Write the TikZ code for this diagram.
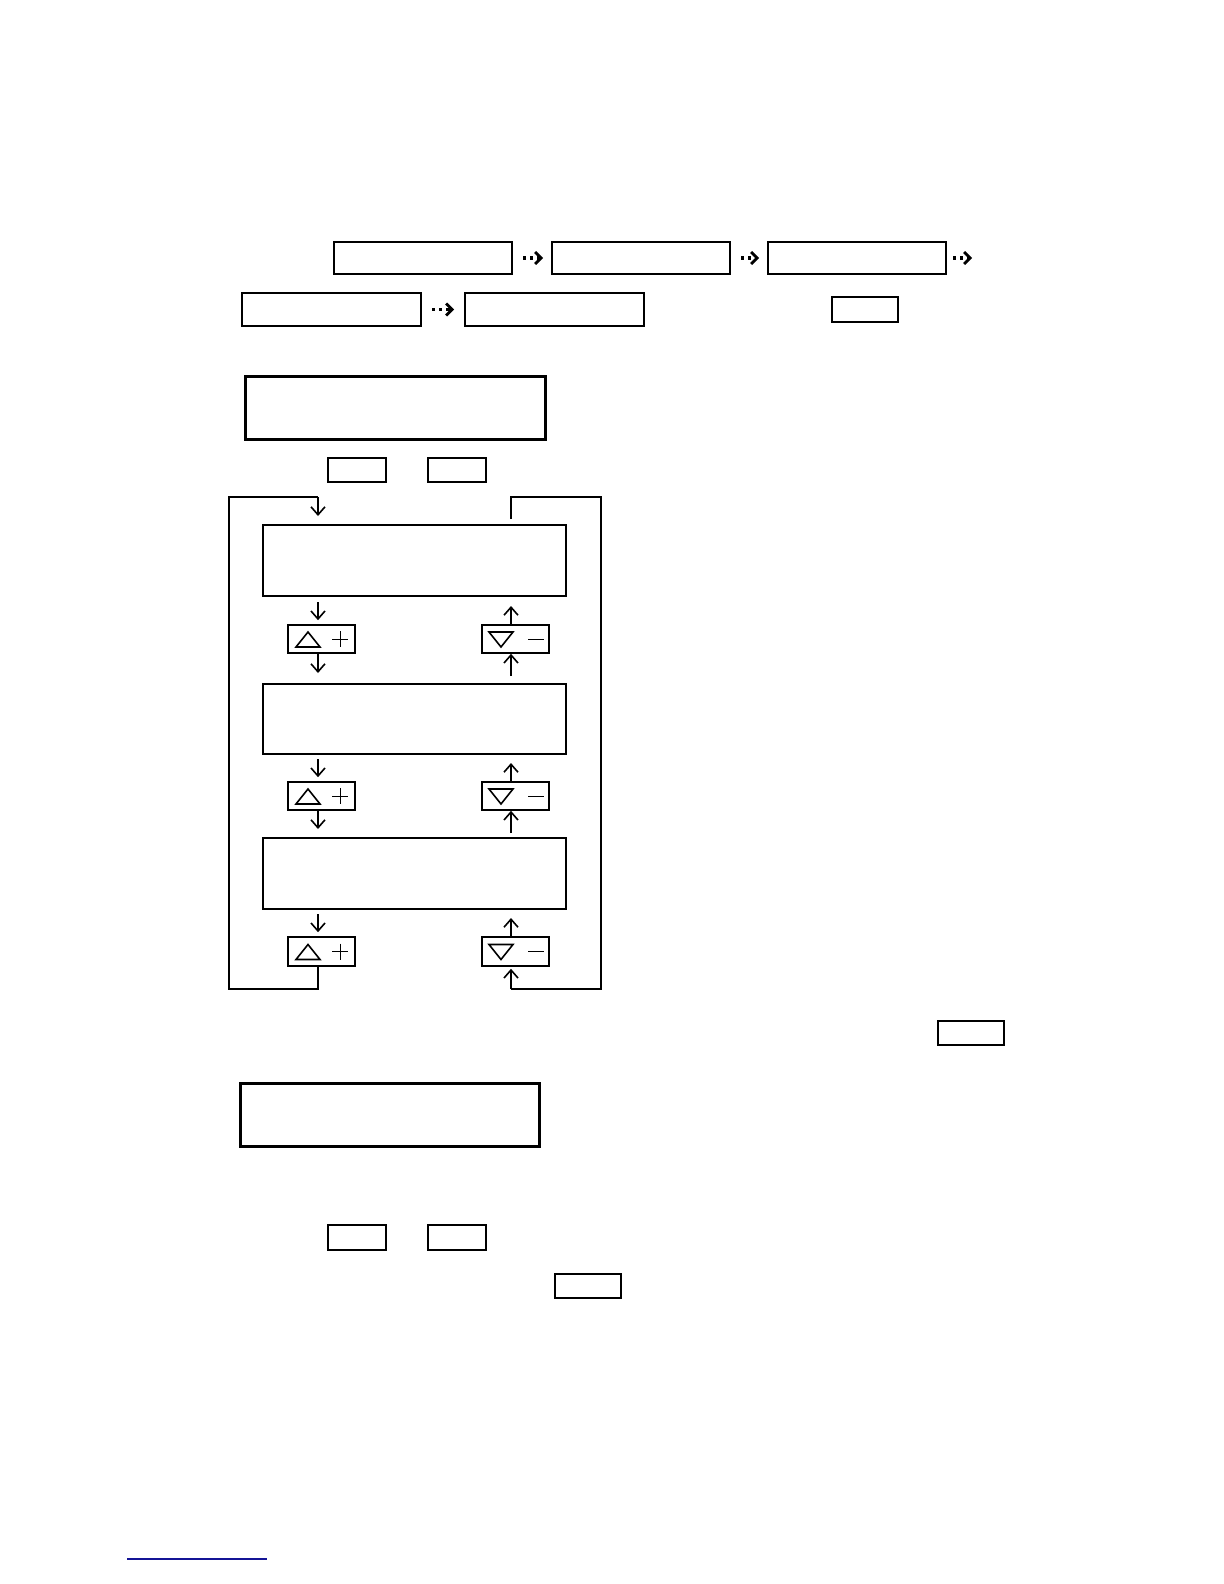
\documentclass[tikz,border=0pt]{standalone}
\usetikzlibrary{arrows.meta,fit}
\definecolor{linkblue}{RGB}{20,20,150}
\tikzset{
  box/.style={draw,line width=1pt,inner sep=0pt},
  bigbox/.style={draw,line width=1.5pt,inner sep=0pt},
  keybox/.style={draw,line width=0.7pt,inner sep=0pt},
  btn/.style={draw,line width=0.8pt,inner sep=0pt},
  loop/.style={line width=0.8pt},
  arr/.style={line width=0.8pt,-{Straight Barb[length=4pt,width=7pt,line width=0.8pt]}},
  darr/.style={line width=1.6pt,dotted,-{Straight Barb[length=3pt,width=6pt,line width=1.4pt]}},
  upsym/.pic={
    \draw[line width=0.8pt] (-25.5,8) -- (-1.5,8) -- (-13.5,-7) -- cycle;
    \draw[line width=0.5pt] (10.5,0) -- (26.5,0) (18.5,-8) -- (18.5,8);
  },
  downsym/.pic={
    \draw[line width=0.8pt] (-26.5,-7) -- (-2.5,-7) -- (-14.5,8) -- cycle;
    \draw[line width=0.5pt] (12.5,0) -- (28.5,0);
  }
}
\begin{document}
\begin{tikzpicture}[x=0.5pt,y=-0.5pt]
% top rows
\node[box,fit={(334,242)(512,274)}] (t1) {};
\node[box,fit={(552,242)(730,274)}] (t2) {};
\node[box,fit={(768,242)(946,274)}] (t3) {};
\coordinate (t3end) at (972,258);
\node[box,fit={(242,293)(421,326)}] (t4) {};
\node[box,fit={(465,293)(644,326)}] (t5) {};
\node[keybox,fit={(832,297)(898,322)}] (k1) {};
\draw[darr,shorten <=5pt,shorten >=4pt] (t1) -- (t2);
\draw[darr,shorten <=5pt,shorten >=4pt] (t2) -- (t3);
\draw[darr,shorten <=3pt] (t3) -- (t3end);
\draw[darr,shorten <=5pt,shorten >=5pt] (t4) -- (t5);
% display
\node[bigbox,fit={(245,376)(545,439)}] (d1) {};
\node[keybox,fit={(328,458)(386,482)}] (k2) {};
\node[keybox,fit={(428,458)(486,482)}] (k3) {};
% loop boxes
\node[box,fit={(263,525)(566,596)}] (m1) {};
\node[box,fit={(263,684)(566,754)}] (m2) {};
\node[box,fit={(263,838)(566,909)}] (m3) {};
\node[btn,fit={(288,625)(355,653)}] (u1) {};
\node[btn,fit={(288,782)(355,810)}] (u2) {};
\node[btn,fit={(288,937)(355,966)}] (u3) {};
\node[btn,fit={(482,625)(549,653)}] (n1) {};
\node[btn,fit={(482,782)(549,810)}] (n2) {};
\node[btn,fit={(482,937)(549,966)}] (n3) {};
\foreach \b in {u1,u2,u3} \pic at (\b) {upsym};
\foreach \b in {n1,n2,n3} \pic at (\b) {downsym};
\coordinate (lx) at (318,0);
\coordinate (rx) at (511,0);
% down arrows (left column)
\draw[arr] ([yshift=-2.5pt]m1.south -| lx) -- ([yshift=2pt]u1.north -| lx);
\draw[arr] (u1.south -| lx) -- ([yshift=5pt]m2.north -| lx);
\draw[arr] ([yshift=-2pt]m2.south -| lx) -- ([yshift=2pt]u2.north -| lx);
\draw[arr] (u2.south -| lx) -- ([yshift=4pt]m3.north -| lx);
\draw[arr] ([yshift=-2pt]m3.south -| lx) -- ([yshift=2pt]u3.north -| lx);
% up arrows (right column)
\draw[arr] (n1.north -| rx) -- ([yshift=-4.5pt]m1.south -| rx);
\draw[arr] ([yshift=3.5pt]m2.north -| rx) -- (n1.south -| rx);
\draw[arr] (n2.north -| rx) -- ([yshift=-4pt]m2.south -| rx);
\draw[arr] ([yshift=2pt]m3.north -| rx) -- (n2.south -| rx);
\draw[arr] (n3.north -| rx) -- ([yshift=-4pt]m3.south -| rx);
% outer loop
\coordinate (bl) at (229,989);
\coordinate (tl) at (229,497);
\coordinate (tr) at (601,497);
\coordinate (br) at (601,989);
\draw[loop] (u3.south -| lx) -- (bl -| lx) -- (bl) -- (tl) -- (tl -| lx);
\draw[arr] (tl -| lx) -- ([yshift=4pt]m1.north -| lx);
\draw[loop] ([yshift=2.5pt]m1.north -| rx) -- (tr -| rx) -- (tr) -- (br) -- (br -| rx);
\draw[arr] (br -| rx) -- ([yshift=-1pt]n3.south -| rx);
% lower part
\node[keybox,fit={(938,1021)(1004,1045)}] (k4) {};
\node[bigbox,fit={(240,1083)(539,1146)}] (d2) {};
\node[keybox,fit={(328,1225)(386,1250)}] (k5) {};
\node[keybox,fit={(428,1225)(486,1250)}] (k6) {};
\node[keybox,fit={(555,1274)(621,1298)}] (k7) {};
\draw[linkblue,line width=0.8pt] (127,1559) -- (267,1559);
\pgfresetboundingbox
\useasboundingbox (0,0) rectangle (1224,1584);
\end{tikzpicture}
\end{document}
